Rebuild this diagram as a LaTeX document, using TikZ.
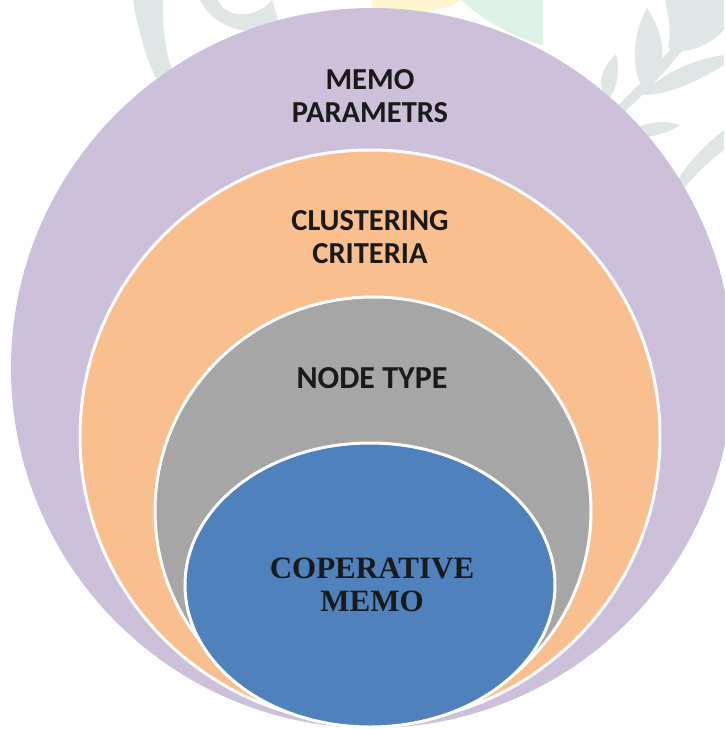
\documentclass[tikz,border=0pt]{standalone}
\usepackage{fontspec}
\newfontfamily\calib{Carlito}
\newfontfamily\tms{Liberation Serif}
\definecolor{lav}{HTML}{CCC0DB}
\definecolor{org}{HTML}{F9BF8F}
\definecolor{gry}{HTML}{A6A6A6}
\definecolor{blu}{HTML}{4F81BD}
\definecolor{wm}{HTML}{DFE6E5}
\definecolor{wmy}{HTML}{FFF6CF}
\definecolor{wmg}{HTML}{DDF1E7}
\definecolor{txt}{HTML}{1A1A1A}
\tikzset{
  ring/.style={draw=white, line width=3pt},
  lbl/.style={align=center, text=txt, inner sep=0pt, font=\calib\bfseries\fontsize{30.5}{33}\selectfont},
  lblser/.style={align=center, text=txt, inner sep=0pt, font=\tms\bfseries\fontsize{31}{33}\selectfont},
  leaf/.style={fill=wm}
}
\begin{document}
\begin{tikzpicture}[x=1pt,y=-1pt]
\useasboundingbox (0,0) rectangle (724,729);
\fill[white] (0,0) rectangle (724,729);
% faint watermark
\fill[wmy] (372,0) -- (462,0) .. controls (440,14) and (400,16) .. (372,10) -- cycle;
\fill[wmg] (462,0) -- (543,0) -- (543,45) .. controls (520,40) and (480,20) .. (462,0) -- cycle;
\fill[wm] (133,0) .. controls (138,30) and (145,55) .. (156,78) -- (172,70) .. controls (165,50) and (162,25) .. (163,0) -- cycle;
\fill[wm] (200,0) .. controls (215,30) and (255,40) .. (278,20) -- (272,0) .. controls (255,20) and (225,18) .. (218,0) -- cycle;
% stem
\fill[leaf] (615,108) .. controls (650,75) and (685,35) .. (708,0) -- (718,0) .. controls (695,38) and (660,80) .. (622,114) -- cycle;
% upright leaf
\fill[leaf] (647,8) .. controls (632,35) and (630,70) .. (645,92) .. controls (668,75) and (668,40) .. (647,8) -- cycle;
% small leaf pointing up-left
\fill[leaf] (616,54) .. controls (600,70) and (596,85) .. (608,100) .. controls (618,88) and (620,70) .. (616,54) -- cycle;
% top-right leaf
\fill[leaf] (665,0) -- (724,0) -- (724,30) .. controls (705,50) and (680,55) .. (668,48) .. controls (672,30) and (668,15) .. (665,0) -- cycle;
% leaf pointing right at middle
\fill[leaf] (642,95) .. controls (660,75) and (690,60) .. (724,55) -- (724,65) .. controls (700,80) and (670,95) .. (642,95) -- cycle;
% lower leaf
\fill[leaf] (625,135) .. controls (645,120) and (665,120) .. (680,125) .. controls (665,135) and (645,140) .. (625,135) -- cycle;
% diagonal band on the right
\fill[leaf] (676,182) .. controls (690,160) and (705,145) .. (724,130) -- (724,150) .. controls (708,162) and (695,175) .. (684,188) -- cycle;
% nested ellipses
\coordinate (cp) at (372,368);
\coordinate (co) at (370,437);
\coordinate (cg) at (373,511);
\coordinate (cb) at (370,585);
\fill[lav] (cp) ellipse [x radius=361, y radius=360];
\filldraw[ring, fill=org] (co) ellipse [x radius=290, y radius=287];
\filldraw[ring, fill=gry] (cg) ellipse [x radius=218, y radius=214];
\filldraw[ring, fill=blu] (cb) ellipse [x radius=185, y radius=142];
% labels
\node[lbl] (memo) at (370,96) {MEMO\\PARAMETRS};
\node[lbl] (clus) at (370,237) {CLUSTERING\\CRITERIA};
\node[lbl, font=\calib\bfseries\fontsize{32}{34}\selectfont] (node) at (372,378) {NODE TYPE};
\node[lblser] (coop) at (372,585) {COPERATIVE\\MEMO};
\end{tikzpicture}
\end{document}
